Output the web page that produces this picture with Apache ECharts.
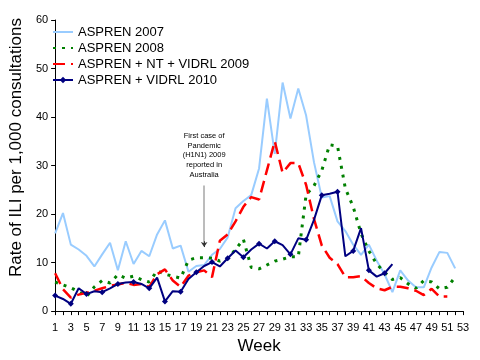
<!DOCTYPE html>
<html><head><meta charset="utf-8">
<script src="https://cdn.jsdelivr.net/npm/echarts@6/dist/echarts.min.js"></script>
<style>html,body{margin:0;padding:0;background:#fff}#c{width:480px;height:360px}</style>
</head><body><div id="c"></div>
<script>
const weeks = ['1','2','3','4','5','6','7','8','9','10','11','12','13','14','15','16','17','18','19','20','21','22','23','24','25','26','27','28','29','30','31','32','33','34','35','36','37','38','39','40','41','42','43','44','45','46','47','48','49','50','51','52','53'];
const aspren2007 = [16,20.2,13.7,12.7,11.4,9.2,11.7,14.1,8.4,14.4,9.7,12.4,11.3,15.8,18.7,12.9,13.5,8.1,9.3,9.5,11.6,12.8,15.2,21.2,22.7,23.9,29.4,43.8,32.4,47.1,39.7,45.9,40.3,30.7,23.4,23.7,18.5,16.5,13.7,11.6,13.7,10.4,7.6,3.9,8.4,6.3,4.9,4.9,9.0,12.2,12.0,8.8];
const aspren2008 = [6.0,5.4,4.8,4.0,3.0,5.0,6.3,5.8,7.5,6.8,7.2,6.5,6.0,8.3,7.6,7.2,6.8,10.5,11.0,11.0,10.9,10.3,10.8,12.7,14.8,9.0,8.7,9.5,10.3,10.7,11.2,11.2,24.0,25.8,29.0,34.3,34.0,25.3,21.5,16.0,12.4,9.7,8.0,6.5,6.9,5.6,4.7,6.3,6.0,4.6,4.9,7.0];
const aspren2009 = [7.8,4.5,2.8,3.4,3.8,4.2,4.7,5.2,5.5,5.8,5.4,5.6,5.0,7.6,8.6,6.3,5.0,7.3,8.0,8.4,7.0,14.5,15.8,18.5,21.5,23.5,23.0,29.0,35.0,28.5,30.5,30.5,26.0,19.0,13.5,11.0,9.7,7.0,7.0,7.2,5.8,4.7,4.3,5.0,5.0,4.7,4.2,3.3,4.6,3.0,3.0];
const aspren2010 = [3.2,2.5,1.5,4.7,3.5,4.1,3.9,4.7,5.6,5.9,6.0,5.6,4.7,6.9,2.0,4.1,4.0,6.6,8.0,9.3,10.1,9.2,10.9,12.5,11.1,12.7,13.9,12.9,14.4,13.6,11.7,15.0,14.7,18.8,23.9,24.2,24.6,11.3,12.4,17.1,8.4,7.1,7.8,9.7];
const seriesNames = ['ASPREN 2007','ASPREN 2008','ASPREN + NT + VIDRL 2009','ASPREN + VIDRL 2010'];
const yTicks = {min:0, max:60, interval:10};
const annotationText = 'First case of\nPandemic\n(H1N1) 2009\nreported in\nAustralia';
const annotationWeek = '20';
const annotationFrom = 25.9, annotationTo = 13.2;

const FONT = 'Liberation Sans, Arial, sans-serif';
const chart = echarts.init(document.getElementById('c'), null, {renderer:'canvas'});
chart.setOption({
  animation:false,
  backgroundColor:'#fff',
  textStyle:{fontFamily:FONT, color:'#000'},
  grid:{left:48, right:17, top:20, bottom:46, containLabel:false},
  legend:{
    orient:'vertical', left:52, top:24, padding:0, itemWidth:20, itemHeight:8, itemGap:0,
    textStyle:{fontFamily:FONT, fontSize:13, color:'#000', lineHeight:16},
    data:[
      {name:seriesNames[0], itemStyle:{opacity:0}},
      {name:seriesNames[1], itemStyle:{opacity:0}},
      {name:seriesNames[2], itemStyle:{opacity:0}},
      {name:seriesNames[3]}
    ]
  },
  xAxis:{
    type:'category', data:weeks, boundaryGap:false,
    name:'Week', nameLocation:'middle', nameGap:25,
    nameTextStyle:{fontFamily:FONT, fontSize:17, color:'#000'},
    axisLine:{lineStyle:{color:'#000', width:1}},
    axisTick:{show:true, interval:0, length:4, lineStyle:{color:'#000'}},
    axisLabel:{interval:1, fontSize:11, color:'#000', margin:11, fontFamily:FONT},
    splitLine:{show:false}
  },
  yAxis:{
    type:'value', min:yTicks.min, max:yTicks.max, interval:yTicks.interval,
    name:'Rate of ILI per 1,000 consultations', nameLocation:'middle', nameGap:21,
    nameTextStyle:{fontFamily:FONT, fontSize:17, color:'#000', padding:[0,0,0,36]},
    axisLine:{show:true, lineStyle:{color:'#000', width:1}},
    axisTick:{show:true, length:4, lineStyle:{color:'#000'}},
    axisLabel:{fontSize:11, color:'#000', margin:7, fontFamily:FONT},
    splitLine:{show:false}
  },
  series:[
    {name:seriesNames[0], type:'line', data:aspren2007, symbol:'none',
     lineStyle:{color:'#99ccff', width:2}, itemStyle:{color:'#99ccff'}},
    {name:seriesNames[1], type:'line', data:aspren2008, symbol:'none',
     lineStyle:{color:'#008000', width:3, type:[3,6]}, itemStyle:{color:'#008000'}},
    {name:seriesNames[2], type:'line', data:aspren2009, symbol:'none',
     lineStyle:{color:'#ff0000', width:2.5, type:[12,6]}, itemStyle:{color:'#ff0000'}},
    {name:seriesNames[3], type:'line', data:aspren2010, symbol:'diamond', symbolSize:6, showSymbol:true,
     lineStyle:{color:'#000080', width:2}, itemStyle:{color:'#000080'},
     markLine:{
       silent:true, animation:false, symbol:['none','none'],
       data:[
         [{coord:[annotationWeek, annotationFrom], symbol:'none',
           lineStyle:{color:'#a6a6a6', width:1.5, type:'solid'},
           label:{show:true, position:'start', formatter:annotationText, fontSize:7.5, lineHeight:9.7,
                  color:'#000', fontFamily:FONT, distance:6}},
          {coord:[annotationWeek, annotationTo+0.6], symbol:'none'}],
         [{coord:[annotationWeek, annotationTo+1.2], symbol:'none',
           lineStyle:{color:'#333', width:1, type:'solid'}, label:{show:false}},
          {coord:[annotationWeek, annotationTo], symbol:'arrow', symbolSize:[5,5]}]
       ]
     }}
  ]
});
</script></body></html>
